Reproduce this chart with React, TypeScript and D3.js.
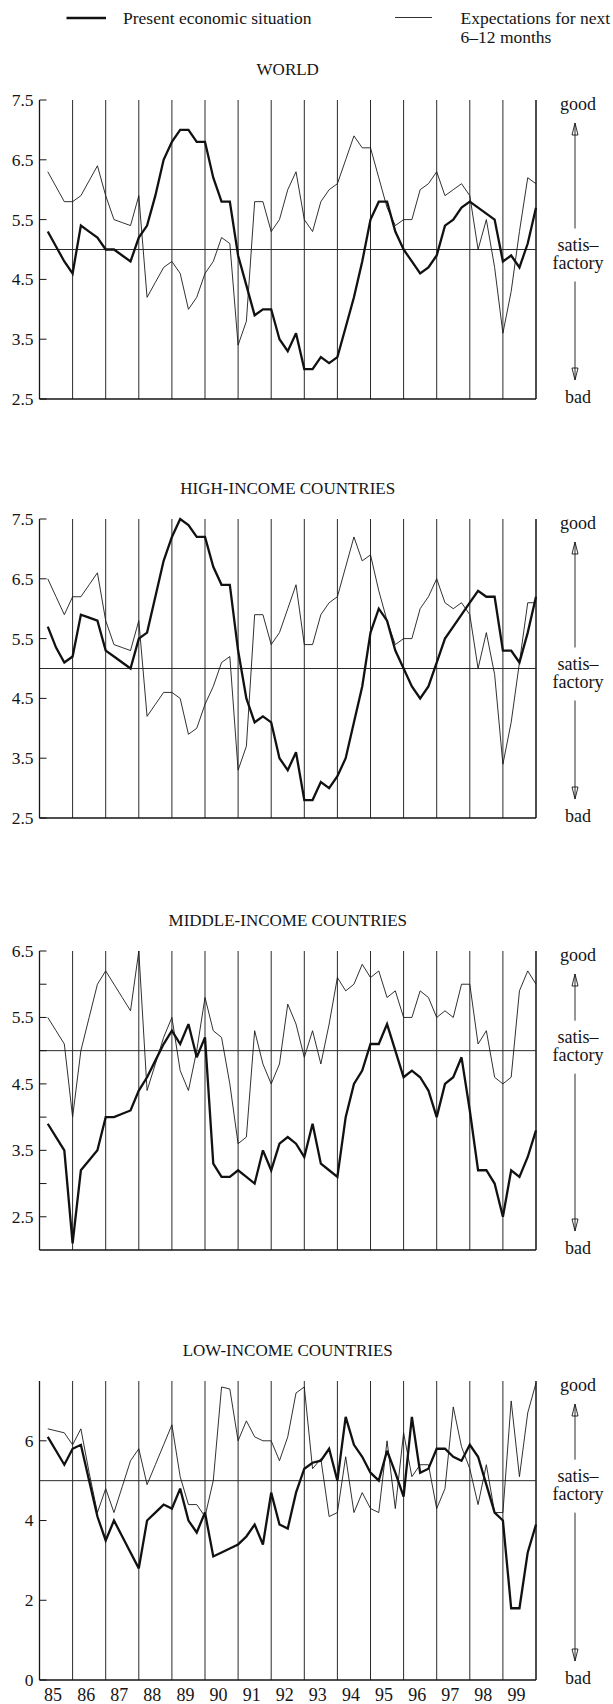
import React from "react";
import * as d3 from "d3";

// Quarterly survey readings, Q1 1985 through Q4 1999 (60 quarters each)
const worldPresent = [5.3, 5.05, 4.8, 4.6, 5.4, 5.3, 5.2, 5.0, 5.0, 4.9, 4.8, 5.2, 5.4, 5.9, 6.5, 6.8, 7.0, 7.0, 6.8, 6.8, 6.2, 5.8, 5.8, 4.9, 4.4, 3.9, 4.0, 4.0, 3.5, 3.3, 3.6, 3.0, 3.0, 3.2, 3.1, 3.2, 3.7, 4.2, 4.8, 5.5, 5.8, 5.8, 5.3, 5.0, 4.8, 4.6, 4.7, 4.9, 5.4, 5.5, 5.7, 5.8, 5.7, 5.6, 5.5, 4.8, 4.9, 4.7, 5.1, 5.7];
const worldExpect = [6.3, 6.05, 5.8, 5.8, 5.9, 6.15, 6.4, 5.9, 5.5, 5.45, 5.4, 5.9, 4.2, 4.45, 4.7, 4.8, 4.6, 4.0, 4.2, 4.6, 4.8, 5.2, 5.1, 3.4, 3.8, 5.8, 5.8, 5.3, 5.5, 6.0, 6.3, 5.5, 5.3, 5.8, 6.0, 6.1, 6.5, 6.9, 6.7, 6.7, 6.2, 5.7, 5.4, 5.5, 5.5, 6.0, 6.1, 6.3, 5.9, 6.0, 6.1, 5.9, 5.0, 5.5, 4.7, 3.6, 4.3, 5.3, 6.2, 6.1];

const highPresent = [5.7, 5.35, 5.1, 5.2, 5.9, 5.85, 5.8, 5.3, 5.2, 5.1, 5.0, 5.5, 5.6, 6.2, 6.8, 7.2, 7.5, 7.4, 7.2, 7.2, 6.7, 6.4, 6.4, 5.3, 4.5, 4.1, 4.2, 4.1, 3.5, 3.3, 3.6, 2.8, 2.8, 3.1, 3.0, 3.2, 3.5, 4.1, 4.7, 5.6, 6.0, 5.8, 5.3, 5.0, 4.7, 4.5, 4.7, 5.1, 5.5, 5.7, 5.9, 6.1, 6.3, 6.2, 6.2, 5.3, 5.3, 5.1, 5.6, 6.2];
const highExpect = [6.5, 6.2, 5.9, 6.2, 6.2, 6.4, 6.6, 5.8, 5.4, 5.35, 5.3, 5.8, 4.2, 4.4, 4.6, 4.6, 4.5, 3.9, 4.0, 4.4, 4.7, 5.1, 5.2, 3.3, 3.7, 5.9, 5.9, 5.4, 5.6, 6.0, 6.4, 5.4, 5.4, 5.9, 6.1, 6.2, 6.7, 7.2, 6.8, 6.9, 6.3, 5.8, 5.4, 5.5, 5.5, 6.0, 6.2, 6.5, 6.1, 6.0, 6.1, 5.9, 5.0, 5.6, 4.9, 3.4, 4.1, 5.1, 6.1, 6.1];

const middlePresent = [3.9, 3.7, 3.5, 2.1, 3.2, 3.35, 3.5, 4.0, 4.0, 4.05, 4.1, 4.4, 4.6, 4.85, 5.1, 5.3, 5.1, 5.4, 4.9, 5.2, 3.3, 3.1, 3.1, 3.2, 3.1, 3.0, 3.5, 3.2, 3.6, 3.7, 3.6, 3.4, 3.9, 3.3, 3.2, 3.1, 4.0, 4.5, 4.7, 5.1, 5.1, 5.4, 5.0, 4.6, 4.7, 4.6, 4.4, 4.0, 4.5, 4.6, 4.9, 4.1, 3.2, 3.2, 3.0, 2.5, 3.2, 3.1, 3.4, 3.8];
const middleExpect = [5.5, 5.3, 5.1, 4.0, 5.0, 5.5, 6.0, 6.2, 6.0, 5.8, 5.6, 6.5, 4.4, 4.8, 5.2, 5.5, 4.7, 4.4, 5.0, 5.8, 5.3, 5.2, 4.5, 3.6, 3.7, 5.3, 4.8, 4.5, 4.8, 5.7, 5.4, 4.9, 5.3, 4.8, 5.4, 6.1, 5.9, 6.0, 6.3, 6.1, 6.2, 5.8, 5.9, 5.5, 5.5, 5.9, 5.8, 5.5, 5.6, 5.5, 6.0, 6.0, 5.1, 5.3, 4.6, 4.5, 4.6, 5.9, 6.2, 6.0];

const lowPresent = [6.1, 5.75, 5.4, 5.8, 5.9, 5.0, 4.1, 3.5, 4.0, 3.6, 3.2, 2.8, 4.0, 4.2, 4.4, 4.3, 4.8, 4.0, 3.7, 4.2, 3.1, 3.2, 3.3, 3.4, 3.6, 3.9, 3.4, 4.7, 3.9, 3.8, 4.7, 5.3, 5.45, 5.5, 5.8, 5.0, 6.6, 5.9, 5.6, 5.2, 5.0, 5.75, 5.2, 4.6, 6.6, 5.2, 5.3, 5.8, 5.8, 5.6, 5.5, 5.9, 5.6, 4.9, 4.2, 4.0, 1.8, 1.8, 3.2, 3.9];
const lowExpect = [6.3, 6.25, 6.2, 5.9, 6.3, 5.2, 4.2, 4.8, 4.2, 4.85, 5.5, 5.8, 4.9, 5.4, 5.9, 6.4, 5.1, 4.4, 4.4, 4.1, 5.0, 7.35, 7.3, 6.0, 6.5, 6.1, 6.0, 6.0, 5.5, 6.1, 7.2, 7.35, 5.3, 5.55, 4.1, 4.2, 5.6, 4.2, 4.7, 4.3, 4.2, 6.0, 4.3, 6.2, 5.1, 5.4, 5.4, 4.3, 4.8, 6.85, 5.85, 5.3, 4.4, 5.4, 4.2, 4.2, 7.0, 5.1, 6.7, 7.45];

// Axis ticks and labels
const years = d3.range(85, 100);
const yearLabels = years.map((y) => String(y));
const ticksHalf = [7.5, 6.5, 5.5, 4.5, 3.5, 2.5];
const ticksMiddle = [6.5, 6.0, 5.5, 5.0, 4.5, 4.0, 3.5, 3.0, 2.5];
const labelsMiddle = [6.5, 5.5, 4.5, 3.5, 2.5];
const ticksLow = [6, 4, 2, 0];

const legendPresent = "Present economic situation";
const legendExpect = ["Expectations for next", "6\u201312 months"];
const titles = ["WORLD", "HIGH-INCOME COUNTRIES", "MIDDLE-INCOME COUNTRIES", "LOW-INCOME COUNTRIES"];
const satisfactory = 5;

const FONT = "'Liberation Serif', 'Times New Roman', Times, serif";
const INK = "#151515";

const W = 613;
const H = 1704;
const PLOT_LEFT = 39.5;
const PLOT_RIGHT = 536;
const PANEL_H = 299;

type Panel = {
  title: string;
  top: number;
  domain: [number, number];
  ticks: number[];
  labels: number[];
  present: number[];
  expect: number[];
  textShift: number;
  showYears: boolean;
};

const panels: Panel[] = [
  { title: titles[0], top: 100, domain: [2.5, 7.5], ticks: ticksHalf, labels: ticksHalf, present: worldPresent, expect: worldExpect, textShift: 0, showYears: false },
  { title: titles[1], top: 519, domain: [2.5, 7.5], ticks: ticksHalf, labels: ticksHalf, present: highPresent, expect: highExpect, textShift: 0, showYears: false },
  { title: titles[2], top: 951, domain: [2.0, 6.5], ticks: ticksMiddle, labels: labelsMiddle, present: middlePresent, expect: middleExpect, textShift: -9, showYears: false },
  { title: titles[3], top: 1381, domain: [0, 7.5], ticks: ticksLow, labels: ticksLow, present: lowPresent, expect: lowExpect, textShift: 0, showYears: true },
];

const x = d3.scaleLinear().domain([85, 100]).range([PLOT_LEFT, PLOT_RIGHT]);
const quarterTime = (i: number) => 85 + (i + 1) / 4;

function Arrow({ cx, tip, end, up }: { cx: number; tip: number; end: number; up: boolean }) {
  const s = up ? 1 : -1;
  const head = `M${cx - 3},${tip + s * 12} L${cx},${tip} L${cx + 3},${tip + s * 12} Z`;
  return (
    <g stroke={INK} strokeWidth={0.9} fill="none">
      <line x1={cx} x2={cx} y1={tip} y2={end} />
      <path d={head} fill="#fff" />
      <line x1={cx} x2={cx} y1={tip + s * 2} y2={tip + s * 12} />
    </g>
  );
}

function PanelChart({ p }: { p: Panel }) {
  const bottom = p.top + PANEL_H;
  const y = d3.scaleLinear().domain(p.domain).range([bottom, p.top]);
  const line = d3
    .line<number>()
    .x((_, i) => x(quarterTime(i)))
    .y((d) => y(d));
  const y5 = y(satisfactory);
  const ax = 575;
  const tx = 578;
  const cx = (PLOT_LEFT + PLOT_RIGHT) / 2;
  const side = 18;
  return (
    <g>
      <text x={cx} y={p.top - 25} textAnchor="middle" fontSize={17} fontFamily={FONT} fill={INK}>
        {p.title}
      </text>
      {/* year separators */}
      {years.slice(1).map((yr) => (
        <line key={yr} x1={x(yr)} x2={x(yr)} y1={p.top} y2={bottom} stroke="#2a2a2a" strokeWidth={1} />
      ))}
      <line x1={PLOT_RIGHT} x2={PLOT_RIGHT} y1={p.top} y2={bottom} stroke={INK} strokeWidth={1.5} />
      {/* satisfactory level */}
      <line x1={PLOT_LEFT} x2={PLOT_RIGHT} y1={y5} y2={y5} stroke="#2a2a2a" strokeWidth={1} />
      {/* axes */}
      <line x1={PLOT_LEFT} x2={PLOT_LEFT} y1={p.top} y2={bottom} stroke={INK} strokeWidth={1.3} />
      <line x1={PLOT_LEFT} x2={PLOT_RIGHT} y1={bottom} y2={bottom} stroke={INK} strokeWidth={1.3} />
      {p.ticks.map((t) => (
        <line key={t} x1={PLOT_LEFT} x2={PLOT_LEFT + 7} y1={y(t)} y2={y(t)} stroke={INK} strokeWidth={1} />
      ))}
      {p.labels.map((t) => (
        <text key={t} x={33.5} y={y(t)} dy="0.34em" textAnchor="end" fontSize={17.5} fontFamily={FONT} fill={INK}>
          {Number.isInteger(t) && p.domain[0] === 0 ? String(t) : t.toFixed(1)}
        </text>
      ))}
      {/* series */}
      <path d={line(p.expect) || ""} fill="none" stroke="#1a1a1a" strokeWidth={0.9} strokeLinejoin="miter" />
      <path d={line(p.present) || ""} fill="none" stroke="#111" strokeWidth={2.3} strokeLinejoin="miter" strokeMiterlimit={3} />
      {/* side annotation */}
      <text x={tx} y={p.top + 10} textAnchor="middle" fontSize={side} fontFamily={FONT} fill={INK}>good</text>
      <Arrow cx={ax} tip={p.top + 23} end={y5 - 21 + p.textShift} up={true} />
      <text x={tx} y={y5 + 1 + p.textShift} textAnchor="middle" fontSize={side} fontFamily={FONT} fill={INK}>satis–</text>
      <text x={tx} y={y5 + 19 + p.textShift} textAnchor="middle" fontSize={side} fontFamily={FONT} fill={INK}>factory</text>
      <Arrow cx={ax} tip={bottom - 19} end={y5 + 32 + p.textShift} up={false} />
      <text x={tx} y={bottom + 4} textAnchor="middle" fontSize={side} fontFamily={FONT} fill={INK}>bad</text>
      {p.showYears &&
        years.map((yr, i) => (
          <text key={yr} x={x(yr + 0.5) - 3} y={bottom + 21} textAnchor="middle" fontSize={18} fontFamily={FONT} fill={INK}>
            {yearLabels[i]}
          </text>
        ))}
    </g>
  );
}

export default function App() {
  return (
    <div style={{ position: "absolute", left: 0, top: 0 }}>
      <svg width={W} height={H} viewBox={`0 0 ${W} ${H}`} style={{ display: "block", background: "#fff" }}>
        <rect width={W} height={H} fill="#fff" />
        {/* legend */}
        <line x1={66.5} x2={106} y1={18} y2={18} stroke="#111" strokeWidth={2.3} />
        <text x={123} y={23.5} fontSize={17.5} fontFamily={FONT} fill={INK}>{legendPresent}</text>
        <line x1={395} x2={432} y1={17.5} y2={17.5} stroke="#1a1a1a" strokeWidth={0.9} />
        <text x={460.5} y={23.5} fontSize={17.5} fontFamily={FONT} fill={INK}>{legendExpect[0]}</text>
        <text x={460.5} y={43} fontSize={17.5} fontFamily={FONT} fill={INK}>{legendExpect[1]}</text>
        {panels.map((p) => (
          <PanelChart key={p.title} p={p} />
        ))}
      </svg>
    </div>
  );
}
